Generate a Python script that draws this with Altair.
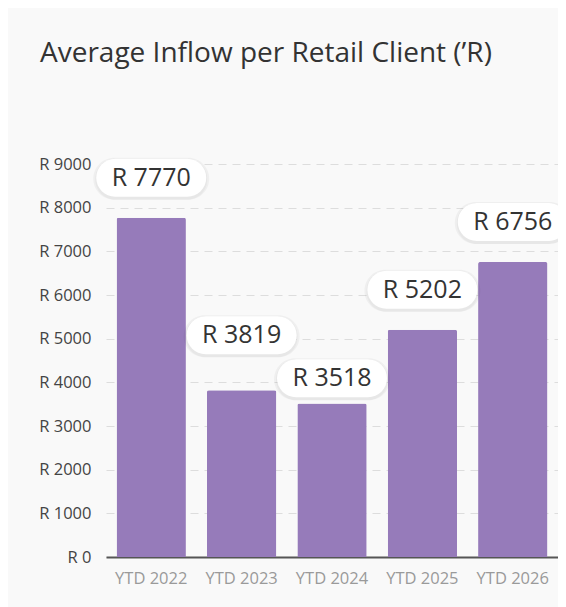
import altair as alt
import pandas as pd

# ---- data ----
categories = ["YTD 2022", "YTD 2023", "YTD 2024", "YTD 2025", "YTD 2026"]
values = [7770, 3819, 3518, 5202, 6756]
y_ticks = [0, 1000, 2000, 3000, 4000, 5000, 6000, 7000, 8000, 9000]
title_text = "Average Inflow per Retail Client (’R)"

# ---- layout / style ----
W, H = 452, 393
YMAX = 9000
UPP = YMAX / H            # data units per pixel
LIFT_PX = 40              # label bubble centre above bar top
BUB_H = 38
BUB_W = 110
GAP = 5
FONT = "Open Sans"
BAR_COLOR = "#967bba"

# label placement with simple collision avoidance (bubbles wider than a band step)
ypx = [H - v / UPP - LIFT_PX for v in values]
for _ in range(5):
    for i in range(len(ypx) - 1):
        d = ypx[i + 1] - ypx[i]
        if abs(d) < BUB_H + GAP:
            mid = (ypx[i] + ypx[i + 1]) / 2
            s = 1 if d >= 0 else -1
            ypx[i] = mid - s * (BUB_H + GAP) / 2
            ypx[i + 1] = mid + s * (BUB_H + GAP) / 2
label_y = [(H - p) * UPP for p in ypx]

df = pd.DataFrame({
    "cat": categories,
    "val": values,
    "label": ["R " + str(v) for v in values],
    "ly": label_y,
    "lo": [y - BUB_H / 2 * UPP for y in label_y],
    "hi": [y + BUB_H / 2 * UPP for y in label_y],
    "slo": [y - (BUB_H / 2 + 3) * UPP for y in label_y],
    "shi": [y + (BUB_H / 2 + 1) * UPP for y in label_y],
})

xenc = alt.X("cat:N", sort=categories, title=None,
             scale=alt.Scale(paddingInner=0.233, paddingOuter=0.117),
             axis=alt.Axis(labelFont=FONT, labelFontSize=16.5, labelColor="#9a9a9a",
                           labelPadding=13, ticks=False, domainColor="#555555",
                           domainWidth=2, labelAngle=0, grid=False))
yscale = alt.Scale(domain=[0, YMAX], nice=False)

base = alt.Chart(df)

bars = base.mark_bar(color=BAR_COLOR, cornerRadiusTopLeft=2, cornerRadiusTopRight=2).encode(
    x=xenc,
    y=alt.Y("val:Q", scale=yscale, title=None,
            axis=alt.Axis(values=y_ticks, labelExpr="'R ' + format(datum.value, 'd')",
                          labelFont=FONT, labelFontSize=16.5, labelColor="#444444",
                          labelPadding=15, ticks=False, domain=False,
                          grid=True, gridColor="#dddddd", gridDash=[8, 6], gridWidth=1)),
)

shadow = base.mark_bar(color="#000000", opacity=0.04, width=BUB_W + 6, cornerRadius=22).encode(
    x=alt.X("cat:N", sort=categories),
    y=alt.Y("slo:Q", scale=yscale),
    y2="shi:Q",
)
shadow2 = base.mark_bar(color="#000000", opacity=0.03, width=BUB_W + 2, cornerRadius=20).encode(
    x=alt.X("cat:N", sort=categories),
    y=alt.Y("slo:Q", scale=yscale),
    y2="hi:Q",
)
bubble = base.mark_bar(color="#ffffff", width=BUB_W, cornerRadius=BUB_H / 2).encode(
    x=alt.X("cat:N", sort=categories),
    y=alt.Y("lo:Q", scale=yscale),
    y2="hi:Q",
)
text = base.mark_text(font=FONT, fontSize=25, color="#333333", baseline="middle").encode(
    x=alt.X("cat:N", sort=categories),
    y=alt.Y("ly:Q", scale=yscale),
    text="label:N",
)

chart = alt.layer(bars, shadow, shadow2, bubble, text).properties(
    width=W, height=H,
    title=alt.Title(title_text, anchor="start", frame="group", dx=-66, offset=88,
                    fontSize=28, font=FONT, fontWeight="normal", color="#333333"),
    autosize=alt.AutoSizeParams(type="none"),
    padding={"left": 98, "top": 156, "right": 0, "bottom": 50},
    background="#f9f9f9",
).configure_view(stroke=None)

chart.save("out.html", embed_options={"renderer": "svg", "actions": False})
